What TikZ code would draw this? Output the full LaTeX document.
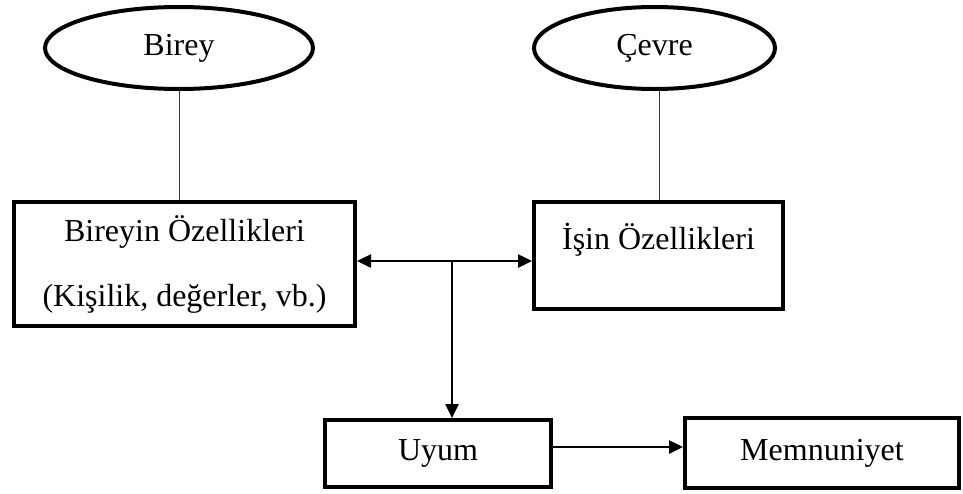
\documentclass[tikz,border=0pt]{standalone}
\usepackage{fontspec}
\setmainfont{Liberation Serif}
\usetikzlibrary{shapes.geometric,arrows.meta}

\begin{document}
\begin{tikzpicture}[x=1pt,y=-1pt,
  txt/.style={font=\fontsize{32}{38}\selectfont},
  oval/.style={ellipse,draw,line width=4pt,inner sep=0pt,txt},
  box/.style={rectangle,draw,line width=4pt,inner sep=0pt,txt,align=center},
  link/.style={line width=1pt,draw=black!80},
  tip/.style={Triangle[length=14pt,width=13pt]},
  flow/.style={line width=2.5pt,-{Triangle[length=14pt,width=13pt]}},
  both/.style={line width=2.5pt,{Triangle[length=14pt,width=13pt]}-{Triangle[length=14pt,width=13pt]}}
]
  \useasboundingbox (0,0) rectangle (963,493);

  % top ellipses
  \node[oval,minimum width=268pt,minimum height=82pt] (birey) at (179,48) {Birey};
  \node[oval,minimum width=241pt,minimum height=82pt] (cevre) at (654.5,48) {Çevre};

  % characteristic boxes
  \node[box,minimum width=341pt,minimum height=124pt,
        font=\fontsize{32}{65}\selectfont] (birozel) at (184.5,264)
        {Bireyin Özellikleri\\(Kişilik, değerler, vb.)};
  \node[box,minimum width=249pt,minimum height=107pt] (isozel) at (658.5,255.5) {};
  \node[txt,inner sep=0pt] (isozeltxt) at (658.5,240) {İşin Özellikleri};

  % outcome boxes
  \node[box,minimum width=226pt,minimum height=67pt] (uyum) at (438,453.5) {Uyum};
  \node[box,minimum width=274pt,minimum height=70pt] (memnun) at (822,453) {Memnuniyet};

  % thin links from ellipses to boxes
  \draw[link] (birey.south) -- (birey.south |- birozel.north);
  \coordinate (cevrefoot) at ([xshift=5pt]cevre.south);
  \draw[link] (cevrefoot) -- (cevrefoot |- isozel.north);

  % interaction between the two sets of characteristics
  \coordinate (j) at (452,261);
  \draw[both] (birozel.east |- j) -- (isozel.west |- j);
  \draw[flow] (j) -- (j |- uyum.north);

  % fit leads to satisfaction
  \coordinate (uyumout) at ([yshift=6.5pt]uyum.east);
  \draw[flow] (uyumout) -- (memnun.west |- uyumout);
\end{tikzpicture}
\end{document}
